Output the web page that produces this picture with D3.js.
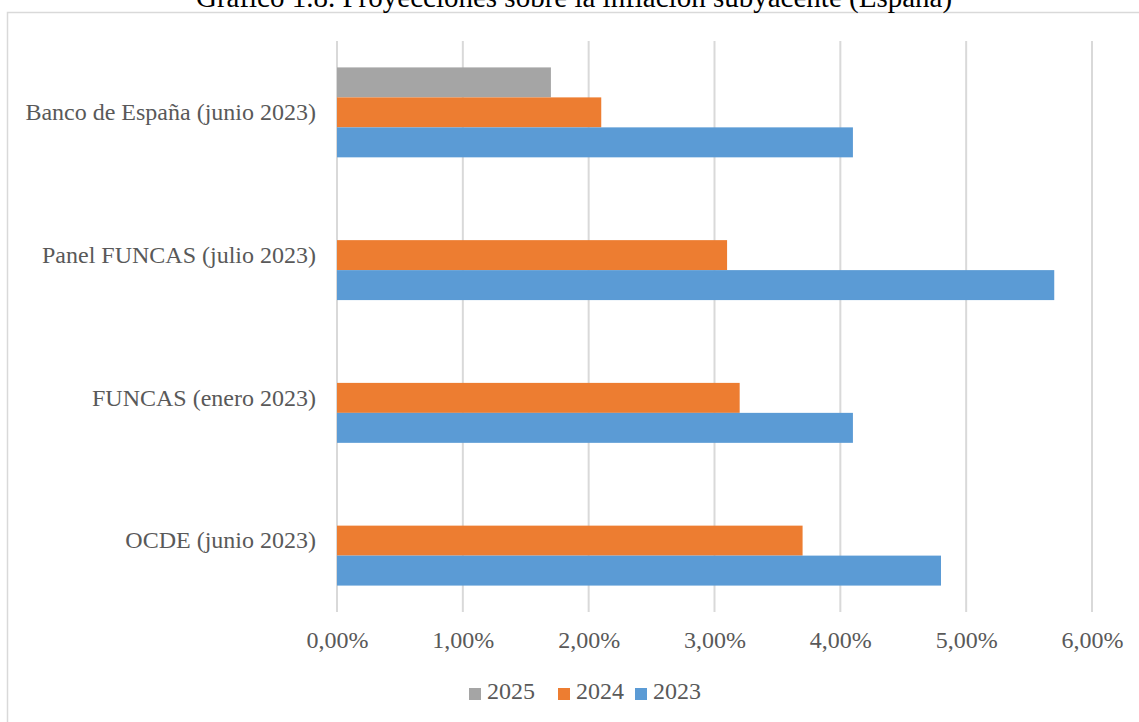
<!DOCTYPE html>
<html>
<head>
<meta charset="utf-8">
<script src="https://cdn.jsdelivr.net/npm/d3@7"></script>
<style>
  body { margin: 0; background: #fff; }
  text { font-family: "Liberation Serif", "Times New Roman", serif; }
</style>
</head>
<body>
<div id="chart"></div>
<script>
// Chart data
const categories = [
  "Banco de España (junio 2023)",
  "Panel FUNCAS (julio 2023)",
  "FUNCAS (enero 2023)",
  "OCDE (junio 2023)"
];
const series = ["2025", "2024", "2023"];
const values2025 = [0.017, null, null, null];
const values2024 = [0.021, 0.031, 0.032, 0.037];
const values2023 = [0.041, 0.057, 0.041, 0.048];
const xTicks = [0, 0.01, 0.02, 0.03, 0.04, 0.05, 0.06];
const colors = { "2025": "#A5A5A5", "2024": "#ED7D31", "2023": "#5B9BD5" };

const valuesBySeries = { "2025": values2025, "2024": values2024, "2023": values2023 };

// Flatten into rows for drawing
const rows = [];
categories.forEach((c, i) => {
  series.forEach((s) => {
    const v = valuesBySeries[s][i];
    if (v !== null) rows.push({ category: c, series: s, value: v });
  });
});

const width = 1139,
  height = 722;
const plot = { left: 337, right: 1092, top: 41, bottom: 612 };

const svg = d3
  .select("#chart")
  .append("svg")
  .attr("width", width)
  .attr("height", height);

// Chart frame (runs off the page on the right and bottom)
svg
  .append("rect")
  .attr("x", 7.5)
  .attr("y", 12.5)
  .attr("width", width)
  .attr("height", height)
  .attr("fill", "none")
  .attr("stroke", "#D9D9D9")
  .attr("stroke-width", 1.5);

// Title, partly cut at the top
svg
  .append("text")
  .attr("x", 574)
  .attr("y", 7)
  .attr("text-anchor", "middle")
  .style("font-size", "29px")
  .attr("fill", "#000")
  .text("Gráfico 1.8. Proyecciones sobre la inflación subyacente (España)");

// Scales
const x = d3.scaleLinear().domain([0, 0.06]).range([plot.left, plot.right]);
const y = d3
  .scaleBand()
  .domain(categories)
  .range([plot.top, plot.bottom])
  .paddingInner(0.37)
  .paddingOuter(0.185);
const y1 = d3.scaleBand().domain(series).range([0, y.bandwidth()]);

// Vertical gridlines
svg
  .append("g")
  .selectAll("line")
  .data(xTicks)
  .enter()
  .append("line")
  .attr("x1", (d) => x(d))
  .attr("x2", (d) => x(d))
  .attr("y1", plot.top)
  .attr("y2", plot.bottom)
  .attr("stroke", "#D9D9D9")
  .attr("stroke-width", 2);

// Bars
svg
  .append("g")
  .selectAll("rect")
  .data(rows)
  .enter()
  .append("rect")
  .attr("x", x(0))
  .attr("y", (d) => y(d.category) + y1(d.series))
  .attr("width", (d) => x(d.value) - x(0))
  .attr("height", y1.bandwidth())
  .attr("fill", (d) => colors[d.series]);

// X axis labels
const xAxis = svg
  .append("g")
  .attr("transform", `translate(0,${plot.bottom})`)
  .call(
    d3
      .axisBottom(x)
      .tickValues(xTicks)
      .tickSize(0)
      .tickPadding(19)
      .tickFormat((d) => d3.format(".2f")(d * 100).replace(".", ",") + "%")
  );
xAxis.select(".domain").remove();
xAxis
  .selectAll("text")
  .attr("fill", "#595959")
  .style("font-size", "24px")
  .style("font-family", '"Liberation Serif", serif');

// Y axis labels
const yAxis = svg
  .append("g")
  .attr("transform", `translate(${plot.left},0)`)
  .call(d3.axisLeft(y).tickSize(0).tickPadding(21));
yAxis.select(".domain").remove();
yAxis
  .selectAll("text")
  .attr("fill", "#595959")
  .style("font-size", "24px")
  .style("font-family", '"Liberation Serif", serif');

// Legend
const legendX = [469, 558, 635];
const legend = svg
  .append("g")
  .selectAll("g")
  .data(series)
  .enter()
  .append("g")
  .attr("transform", (d, i) => `translate(${legendX[i]},688)`);
legend
  .append("rect")
  .attr("width", 12)
  .attr("height", 12)
  .attr("fill", (d) => colors[d]);
legend
  .append("text")
  .attr("x", 18)
  .attr("y", 11)
  .attr("fill", "#595959")
  .style("font-size", "24px")
  .text((d) => d);
</script>
</body>
</html>
